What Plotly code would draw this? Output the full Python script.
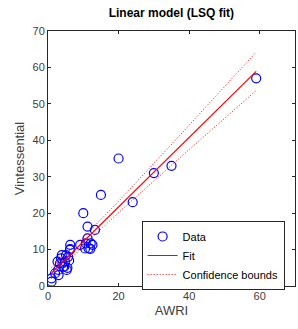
import numpy as np
import plotly.graph_objects as go

awri = [59, 35, 30, 24, 20, 15, 10, 11.2, 13.3, 11.2, 12.6, 12.1, 10.7, 9.1, 6.3, 6.3,
        10.5, 11.5, 12.0, 6.2, 5.1, 3.9, 5.7, 4.8, 3.4, 4.3, 5.3, 2.9, 4.6, 2.0, 1.0,
        1.0, 3.7, 2.7, 4.1, 6.0, 3.0, 5.5]
vint = [57, 33, 31, 23, 35, 25, 20, 16.3, 15.4, 13.1, 11.3, 11.7, 11.7, 11.3, 11.3, 10.1,
        10.3, 10.3, 10.2, 9.9, 8.5, 8.5, 8.0, 6.7, 6.2, 5.3, 4.4, 4.4, 5.3, 3.5, 2.1,
        1.2, 7.6, 6.7, 6.2, 7.0, 3.0, 5.0]

x = np.array(awri, dtype=float)
y = np.array(vint, dtype=float)
n = len(x)
b1, b0 = np.polyfit(x, y, 1)
xf = np.linspace(x.min(), x.max(), 100)
yf = b0 + b1 * xf
res = y - (b0 + b1 * x)
s = np.sqrt(np.sum(res ** 2) / (n - 2))
xm = x.mean()
sxx = np.sum((x - xm) ** 2)
tval = 2.03
half = tval * s * np.sqrt(1.0 / n + (xf - xm) ** 2 / sxx)

fig = go.Figure()
fig.add_trace(go.Scatter(x=awri, y=vint, mode="markers", name="Data",
                         marker=dict(symbol="circle-open", size=9, color="blue",
                                     line=dict(width=1.2, color="blue"))))
fig.add_trace(go.Scatter(x=xf, y=yf, mode="lines", name="Fit",
                         line=dict(color="red", width=1.2)))
fig.add_trace(go.Scatter(x=xf, y=yf + half, mode="lines", name="Confidence bounds",
                         line=dict(color="red", width=1, dash="1px,2px")))
fig.add_trace(go.Scatter(x=xf, y=yf - half, mode="lines", showlegend=False,
                         line=dict(color="red", width=1, dash="1px,2px")))

axis_common = dict(showgrid=False, zeroline=False, showline=True, mirror="ticks",
                   linecolor="#262626", linewidth=1, ticks="inside", ticklen=3,
                   tickcolor="#262626", automargin=False,
                   tickfont=dict(family="Liberation Sans, Arial", size=11, color="#404040"))

fig.update_layout(
    width=298, height=329,
    margin=dict(l=48, r=3, t=31, b=43),
    plot_bgcolor="white", paper_bgcolor="white",
    title=dict(text="<b>Linear model (LSQ fit)</b>", x=0.575, xanchor="center",
               y=0.962, yanchor="middle", automargin=False,
               font=dict(family="Liberation Sans, Arial", size=12, color="black")),
    xaxis=dict(range=[0, 70], tickvals=[0, 20, 40, 60],
               title=dict(text="AWRI", standoff=4,
                          font=dict(family="Liberation Sans, Arial", size=13, color="#404040")),
               **axis_common),
    yaxis=dict(range=[0, 70], tickvals=[0, 10, 20, 30, 40, 50, 60, 70],
               title=dict(text="Vintessential", standoff=4,
                          font=dict(family="Liberation Sans, Arial", size=13, color="#404040")),
               **axis_common),
    legend=dict(x=0.379, y=0.255, xanchor="left", yanchor="top",
                bgcolor="white", bordercolor="#262626", borderwidth=1,
                font=dict(family="Liberation Sans, Arial", size=11, color="black"),
                tracegroupgap=0),
    showlegend=True,
)

fig.write_html("out.html", post_script="document.body.style.margin='0';",
               config={"displayModeBar": False})
